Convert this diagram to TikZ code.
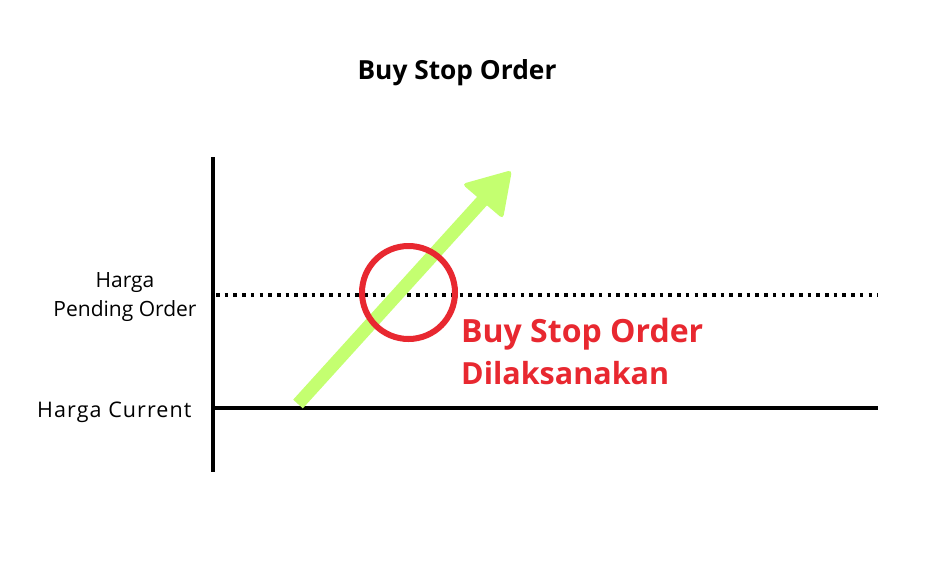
\documentclass[tikz,border=0pt]{standalone}
\usepackage{fontspec}
\setmainfont{Open Sans}
\definecolor{lime}{RGB}{196,255,112}
\definecolor{alertred}{RGB}{232,40,48}
\begin{document}
\begin{tikzpicture}[x=1pt,y=-1pt,
  axisline/.style={line width=3.5pt,black},
  pricelabel/.style={anchor=base,inner sep=0pt,font=\fontsize{21}{29}\selectfont},
  redlabel/.style={anchor=base west,inner sep=0pt,text=alertred,font=\fontsize{32}{42}\selectfont\bfseries},
  titlelabel/.style={anchor=base,inner sep=0pt,font=\fontsize{26.3}{32}\selectfont\bfseries}]
\useasboundingbox[fill=white] (0,0) rectangle (925,571);
% axes
\coordinate (ytop) at (213,157);
\coordinate (ybot) at (213,472);
\coordinate (curL) at (214,408);
\coordinate (curR) at (878,408);
\coordinate (penL) at (216,295);
\coordinate (penR) at (878,295);
\draw[axisline] (ytop) -- (ybot);
\draw[axisline] (curL) -- (curR);
\draw[line width=3.5pt,dash pattern=on 3.6pt off 5.1pt] (penL) -- (penR);
% arrow
\coordinate (tail) at (298,404);
\coordinate (headbase) at (483,200);
\draw[lime,line width=13pt] (tail) -- (headbase);
\fill[lime,rounded corners=4pt] (462,184) -- (512,170) -- (503,219) -- cycle;
% circle
\node[draw=alertred,line width=6pt,circle,minimum size=93pt,inner sep=0pt] (hit) at (408.5,292.5) {};
% texts
\node[titlelabel] (title) at (457,79) {Buy Stop Order};
\node[pricelabel] (harga1) at (125,287) {Harga};
\node[pricelabel] (harga2) at (125,316) {Pending Order};
\node[pricelabel,anchor=base west,font=\fontsize{21.5}{29}\selectfont\addfontfeature{LetterSpace=5}] (current) at (37,417) {Harga Current};
\node[redlabel] (exec1) at (461,342) {Buy Stop Order};
\node[redlabel,font=\fontsize{30.5}{42}\selectfont\bfseries] (exec2) at (461,384) {Dilaksanakan};
\end{tikzpicture}
\end{document}
